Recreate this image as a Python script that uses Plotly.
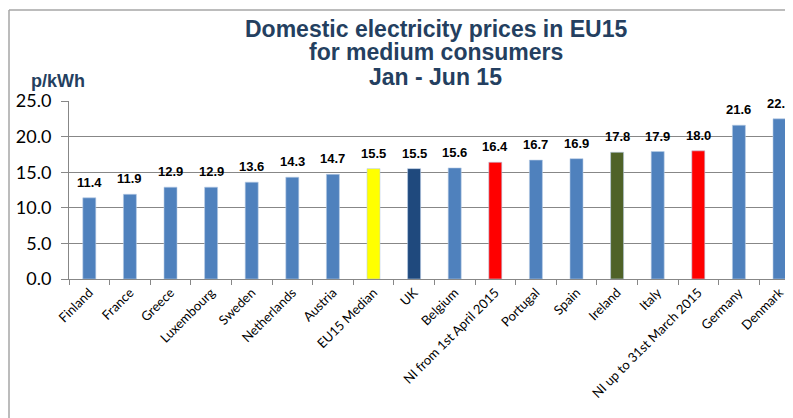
import plotly.graph_objects as go

categories = ["Finland", "France", "Greece", "Luxembourg", "Sweden", "Netherlands",
              "Austria", "EU15 Median", "UK", "Belgium", "NI from 1st April 2015",
              "Portugal", "Spain", "Ireland", "Italy", "NI up to 31st March 2015",
              "Germany", "Denmark"]
values = [11.4, 11.9, 12.9, 12.9, 13.6, 14.3, 14.7, 15.5, 15.5, 15.6, 16.4,
          16.7, 16.9, 17.8, 17.9, 18.0, 21.6, 22.5]
bar_colors = ["#4F81BD"] * 7 + ["#FFFF00", "#1F497D", "#4F81BD", "#FF0000",
              "#4F81BD", "#4F81BD", "#4F6228", "#4F81BD", "#FF0000",
              "#4F81BD", "#4F81BD"]
y_ticks = [0, 5, 10, 15, 20, 25]
y_tick_labels = ["0.0", "5.0", "10.0", "15.0", "20.0", "25.0"]
title_lines = ["Domestic electricity prices in EU15", "for medium consumers", "Jan - Jun 15"]

title_color = "#243F60"
OFF = 8  # page body margin
W, H = 793 - OFF, 418 - OFF
PLOT_TOP, PLOT_BOTTOM, PLOT_LEFT = 101 - OFF, 279 - OFF, 69 - OFF
PH = PLOT_BOTTOM - PLOT_TOP
PW = W - PLOT_LEFT

def py(pix):
    return (PLOT_BOTTOM - (pix - OFF)) / PH

def px(pix):
    return ((pix - OFF) - PLOT_LEFT) / PW

fig = go.Figure()
fig.add_trace(go.Bar(
    x=categories, y=values,
    marker=dict(color=bar_colors, line=dict(color="#B9CDE5", width=0.6)),
    width=0.32,
))

for c, v in zip(categories, values):
    fig.add_annotation(x=c, y=v, text=f"<b>{v:.1f}</b>", showarrow=False,
                       yanchor="bottom", yshift=6,
                       font=dict(family="Liberation Sans, Arial", size=13, color="black"))

for line, ypix in zip(title_lines, [29, 52, 77]):
    fig.add_annotation(xref="paper", yref="paper", x=px(436), y=py(ypix),
                       xanchor="center", yanchor="middle", showarrow=False,
                       text=f"<b>{line}</b>",
                       font=dict(family="Liberation Sans, Arial", size=23, color=title_color))
fig.add_annotation(xref="paper", yref="paper", x=px(58), y=py(81), xanchor="center",
                   yanchor="middle", showarrow=False,
                   text="<b>p/kWh</b>",
                   font=dict(family="Liberation Sans, Arial", size=18, color=title_color))

# outer chart border (left and top edges visible)
fig.add_shape(type="line", xref="paper", yref="paper", x0=px(9), x1=px(800),
              y0=py(10), y1=py(10), line=dict(color="#A6A6A6", width=1.5))
fig.add_shape(type="line", xref="paper", yref="paper", x0=px(9), x1=px(9),
              y0=py(425), y1=py(10), line=dict(color="#A6A6A6", width=1.5))

fig.update_layout(
    width=W, height=H,
    margin=dict(l=PLOT_LEFT, r=0, t=PLOT_TOP, b=H - PLOT_BOTTOM, autoexpand=False),
    paper_bgcolor="white", plot_bgcolor="white",
    showlegend=False,
    font=dict(family="Lato, Carlito, Calibri, sans-serif", color="black"),
)
fig.update_xaxes(
    range=[-0.5, -0.5 + PW / 40.6], tickangle=-45, tickson="boundaries",
    ticks="outside", ticklen=5, tickcolor="#878787",
    showline=True, linecolor="#878787", linewidth=1,
    tickfont=dict(family="Lato, Carlito, Calibri, sans-serif", size=13, color="black"),
    showgrid=False, automargin=False,
)
fig.update_yaxes(
    range=[0, 25], tickvals=y_ticks, ticktext=y_tick_labels,
    ticks="outside", ticklen=7, tickcolor="#878787",
    showline=True, linecolor="#878787", linewidth=1,
    showgrid=True, gridcolor="#878787", gridwidth=1,
    tickfont=dict(family="Lato, Carlito, Calibri, sans-serif", size=18, color="black"),
    ticklabelstandoff=6, zeroline=False, automargin=False,
)

fig.write_html("out.html")
